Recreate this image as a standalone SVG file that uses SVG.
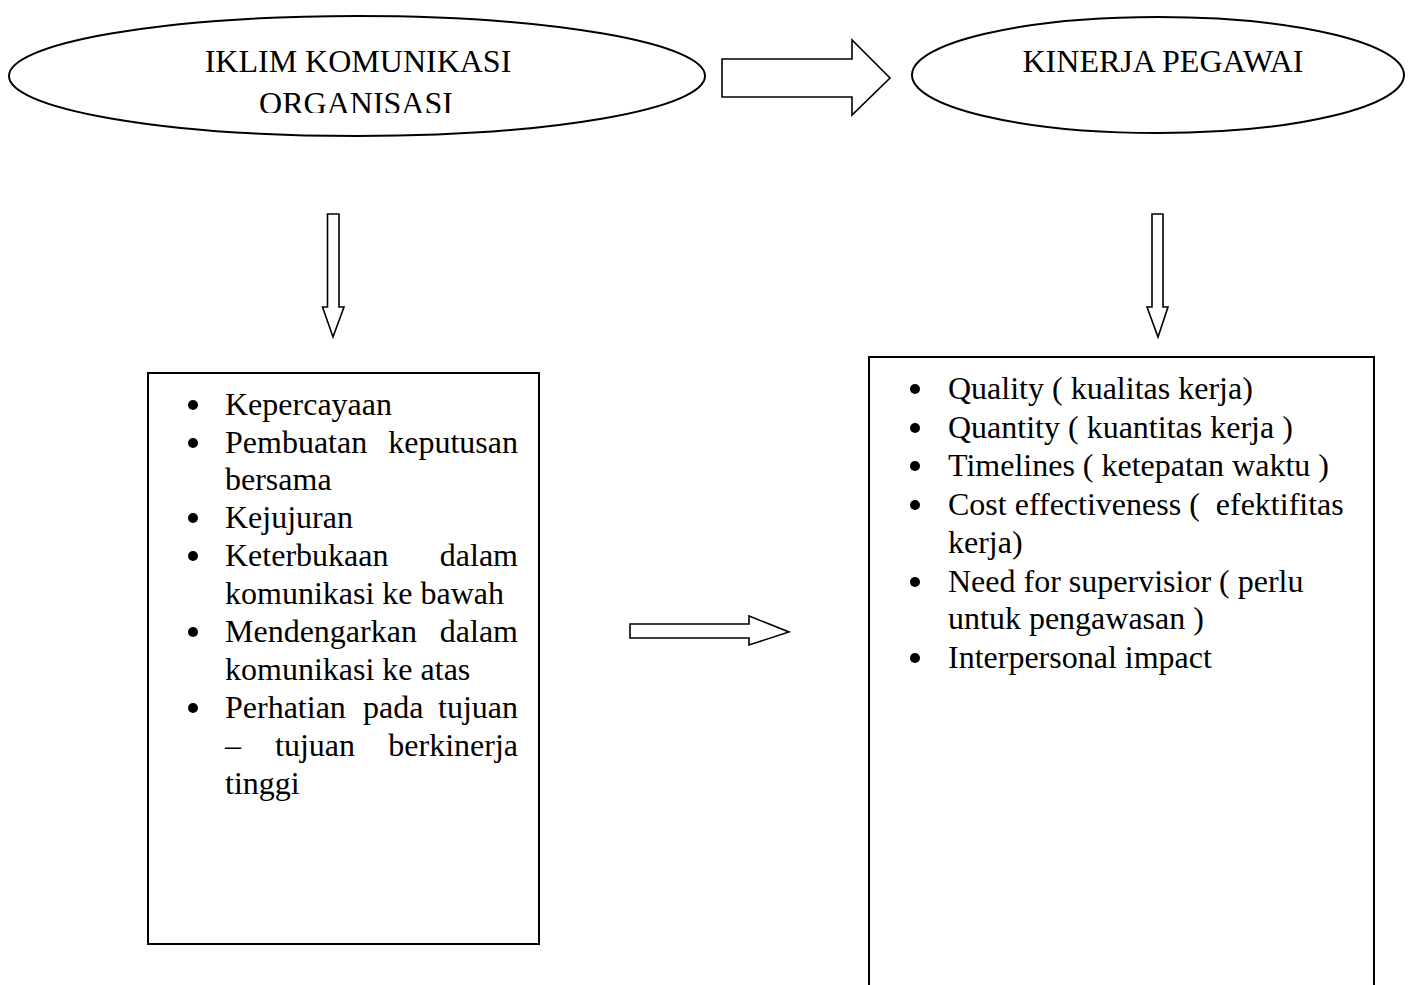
<svg xmlns="http://www.w3.org/2000/svg" width="1408" height="985" viewBox="0 0 1408 985">
<style>
.shape{fill:#fff;stroke:#000;stroke-width:2}
.arr{fill:#fff;stroke:#000;stroke-width:1.6;stroke-linejoin:miter}
text{font-family:"Liberation Serif","Times New Roman",serif;font-size:32px;fill:#000}
.c{text-anchor:middle}
.e{text-anchor:end}
</style>
<defs>
<clipPath id="clipL"><rect x="0" y="0" width="720" height="113"/></clipPath>
</defs>
<rect width="1408" height="985" fill="#fff"/>
<g id="node-iklim">
<ellipse class="shape" cx="357" cy="76" rx="348" ry="60"/>
<g clip-path="url(#clipL)">
<text class="c" x="358" y="72">IKLIM KOMUNIKASI</text>
<text class="c" x="356" y="114">ORGANISASI</text>
</g>
</g>
<g id="node-kinerja">
<ellipse class="shape" cx="1158" cy="75" rx="246" ry="58"/>
<text class="c" x="1163" y="72">KINERJA PEGAWAI</text>
</g>
<g id="connectors">
<polygon class="arr" points="722,59 852,59 852,40 890,78 852,115 852,97 722,97"/>
<polygon class="arr" points="327.5,214 339,214 339,307 344,307 333,337 322.5,307 327.5,307"/>
<polygon class="arr" points="1152,214 1163,214 1163,307 1168,307 1158,337 1147,307 1152,307"/>
<polygon class="arr" points="630,624 749,624 749,616 789,632 749,645 749,638 630,638"/>
</g>
<g id="node-list-left">
<rect class="shape" x="148" y="373" width="391" height="571"/>
<circle cx="193" cy="405" r="5"/>
<text x="225" y="415">Kepercayaan</text>
<circle cx="193" cy="443" r="5"/>
<text x="225" y="453">Pembuatan</text>
<text class="e" x="518" y="453">keputusan</text>
<text x="225" y="490">bersama</text>
<circle cx="193" cy="518" r="5"/>
<text x="225" y="528">Kejujuran</text>
<circle cx="193" cy="556" r="5"/>
<text x="225" y="566">Keterbukaan</text>
<text class="e" x="518" y="566">dalam</text>
<text x="225" y="604">komunikasi ke bawah</text>
<circle cx="193" cy="632" r="5"/>
<text x="225" y="642">Mendengarkan</text>
<text class="e" x="518" y="642">dalam</text>
<text x="225" y="680">komunikasi ke atas</text>
<circle cx="193" cy="708" r="5"/>
<text x="225" y="718">Perhatian</text>
<text x="363" y="718">pada</text>
<text class="e" x="518" y="718">tujuan</text>
<text x="225" y="756">–</text>
<text x="275" y="756">tujuan</text>
<text class="e" x="518" y="756">berkinerja</text>
<text x="225" y="794">tinggi</text>
</g>
<g id="node-list-right">
<path class="shape" d="M869,990 L869,357 L1374,357 L1374,990"/>
<circle cx="915" cy="389" r="5"/>
<text x="948" y="399">Quality ( kualitas kerja)</text>
<circle cx="915" cy="428" r="5"/>
<text x="948" y="438">Quantity ( kuantitas kerja )</text>
<circle cx="915" cy="466" r="5"/>
<text x="948" y="476">Timelines ( ketepatan waktu )</text>
<circle cx="915" cy="505" r="5"/>
<text x="948" y="515" xml:space="preserve">Cost effectiveness (  efektifitas</text>
<text x="948" y="553">kerja)</text>
<circle cx="915" cy="582" r="5"/>
<text x="948" y="592">Need for supervisior ( perlu</text>
<text x="948" y="629">untuk pengawasan )</text>
<circle cx="915" cy="658" r="5"/>
<text x="948" y="668">Interpersonal impact</text>
</g>
</svg>
